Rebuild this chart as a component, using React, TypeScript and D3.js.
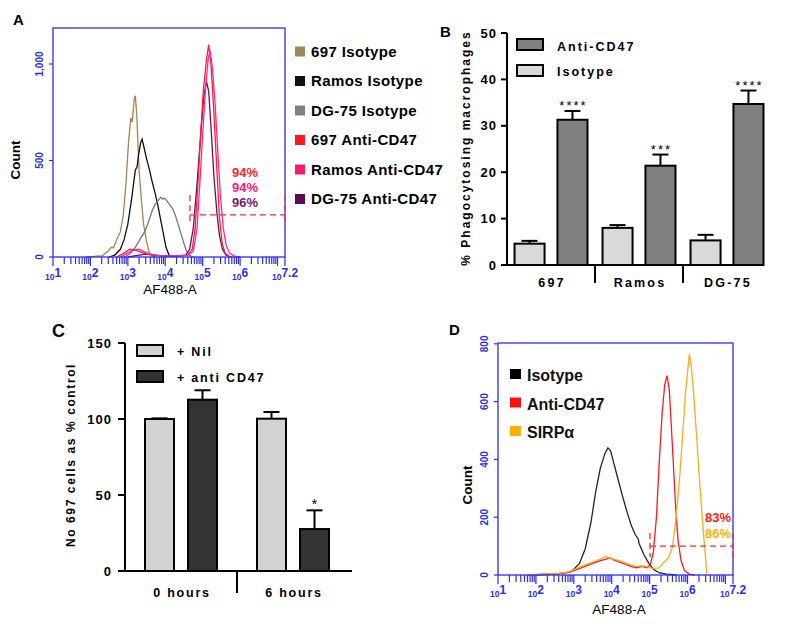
import React from "react";
import * as d3 from "d3";

type Pt = [number, number]; // [log10 fluorescence, count]

// ---------- Panel A : flow histograms ----------
const isotype697: Pt[] = [[1.9,0],[2.1,3],[2.2,6],[2.3,4],[2.4,20],[2.5,35],[2.55,50],[2.62,48],[2.7,90],[2.8,130],[2.88,220],[2.95,380],[3.02,600],[3.08,720],[3.12,700],[3.17,820],[3.2,835],[3.24,730],[3.3,450],[3.36,300],[3.42,170],[3.5,80],[3.57,25],[3.65,5],[3.75,0]];
const isotypeRamos: Pt[] = [[2.5,0],[2.65,10],[2.8,40],[2.9,90],[3.0,170],[3.1,300],[3.2,450],[3.25,470],[3.28,520],[3.34,590],[3.38,610],[3.43,570],[3.5,510],[3.58,450],[3.65,390],[3.73,330],[3.8,270],[3.88,190],[3.95,120],[4.02,50],[4.1,10],[4.2,0]];
const isotypeDG75: Pt[] = [[2.9,0],[3.05,15],[3.2,50],[3.35,100],[3.45,130],[3.55,180],[3.65,240],[3.72,270],[3.8,290],[3.88,310],[3.93,300],[3.98,305],[4.05,290],[4.12,270],[4.2,250],[4.28,210],[4.36,160],[4.42,120],[4.5,70],[4.57,30],[4.65,8],[4.75,0]];
const anti697: Pt[] = [[2.7,0],[2.9,20],[3.05,40],[3.2,35],[3.35,25],[3.5,15],[3.7,8],[4.0,5],[4.3,5],[4.6,10],[4.72,40],[4.8,150],[4.88,400],[4.95,650],[5.02,870],[5.1,1020],[5.16,1100],[5.22,1000],[5.3,750],[5.38,450],[5.45,200],[5.52,70],[5.6,20],[5.7,5],[5.8,0]];
const antiRamos: Pt[] = [[2.8,0],[3.0,20],[3.15,35],[3.3,40],[3.45,25],[3.6,15],[3.8,8],[4.2,5],[4.6,8],[4.75,30],[4.85,150],[4.93,400],[5.0,640],[5.08,880],[5.15,1030],[5.2,1070],[5.26,980],[5.33,800],[5.4,560],[5.47,330],[5.55,150],[5.63,60],[5.72,20],[5.85,5],[6.0,0]];
const antiDG75: Pt[] = [[3.0,0],[3.3,10],[3.5,15],[3.8,8],[4.2,5],[4.55,10],[4.65,40],[4.75,150],[4.85,380],[4.95,640],[5.03,830],[5.1,910],[5.16,860],[5.23,650],[5.3,420],[5.38,230],[5.45,110],[5.53,40],[5.62,10],[5.75,0]];

const legendA = ["697 Isotype", "Ramos Isotype", "DG-75 Isotype", "697 Anti-CD47", "Ramos Anti-CD47", "DG-75 Anti-CD47"];
const legendAColors = ["#9d8a5b", "#111111", "#808080", "#ff1a1a", "#ff1a6e", "#5e0a55"];
const curveAColors = ["#b08050", "#111111", "#777777", "#6b0f5c", "#ff2020", "#ff22aa"];
const percentA = ["94%", "94%", "96%"];
const percentAColors = ["#ff2424", "#ff1a7a", "#7a1a6e"];
const yTicksA = [0, 500, 1000];
const yTickLabelsA = ["0", "500", "1,000"];

// ---------- Panel B : phagocytosis ----------
const phagoCategories = ["697", "Ramos", "DG-75"];
const phagoIsotype = [4.6, 8.0, 5.3];
const phagoIsotypeErr = [5.2, 8.6, 6.5];
const phagoAnti = [31.3, 21.4, 34.7];
const phagoAntiErr = [33.2, 23.8, 37.6];
const phagoStars = ["****", "***", "****"];
const yTicksB = [0, 10, 20, 30, 40, 50];

// ---------- Panel C : cell counts ----------
const cellTimes = ["0 hours", "6 hours"];
const cellNil = [100, 100.2];
const cellNilErr = [100.4, 104.6];
const cellAnti = [112.7, 27.6];
const cellAntiErr = [118.9, 39.9];
const cellStars = ["", "*"];
const yTicksC = [0, 50, 100, 150];

// ---------- Panel D : flow histograms ----------
const isotypeD: Pt[] = [[2.0,0],[2.5,3],[2.9,10],[3.0,20],[3.15,40],[3.3,90],[3.45,180],[3.58,290],[3.7,370],[3.82,420],[3.9,440],[3.97,430],[4.05,390],[4.15,340],[4.27,280],[4.4,220],[4.52,170],[4.62,140],[4.7,125],[4.72,110],[4.85,70],[4.98,40],[5.1,20],[5.25,8],[5.45,3],[5.7,0]];
const antiCD47D: Pt[] = [[1.8,0],[2.2,3],[2.6,5],[2.9,10],[3.1,20],[3.3,30],[3.5,40],[3.7,50],[3.85,55],[3.95,60],[4.05,52],[4.2,45],[4.35,38],[4.5,30],[4.65,25],[4.8,30],[4.92,25],[5.02,35],[5.1,80],[5.18,200],[5.25,380],[5.33,560],[5.4,660],[5.46,690],[5.52,640],[5.6,450],[5.68,250],[5.75,120],[5.83,50],[5.92,15],[6.05,3],[6.2,0]];
const sirpD: Pt[] = [[1.8,0],[2.2,3],[2.6,6],[2.9,12],[3.1,25],[3.3,35],[3.5,45],[3.7,55],[3.85,65],[3.95,58],[4.05,55],[4.2,50],[4.35,42],[4.5,35],[4.65,30],[4.8,32],[4.95,28],[5.1,22],[5.25,25],[5.35,40],[5.5,60],[5.6,95],[5.7,200],[5.8,350],[5.88,500],[5.94,620],[6.0,700],[6.05,765],[6.1,720],[6.15,650],[6.22,520],[6.29,380],[6.36,250],[6.42,145],[6.47,70],[6.51,0]];
const legendD = ["Isotype", "Anti-CD47", "SIRPα"];
const legendDColors = ["#000000", "#ff1010", "#ffb000"];
const percentD = ["83%", "86%"];
const percentDColors = ["#ff2020", "#ffb000"];
const yTicksD = [0, 200, 400, 600, 800];
const yTickLabelsD = ["0", "200", "400", "600", "800"];

const xExponents = ["1", "2", "3", "4", "5", "6", "7.2"];
const xExpValues = [1, 2, 3, 4, 5, 6, 7.2];

const FONT = "'Liberation Sans', Arial, Helvetica, sans-serif";
const BLUE = "#2d2df0";

type FlowProps = {
  box: { x0: number; x1: number; y0: number; y1: number };
  yMax: number;
  yTicks: number[];
  yTickLabels: string[];
  series: Pt[][];
  colors: string[];
  gate: { from: number; level: number; lo: number; hi: number };
  labelOffset: number;
};

function FlowPanel({ box, yMax, yTicks, yTickLabels, series, colors, gate, labelOffset }: FlowProps) {
  const x = d3.scaleLog().domain([10, Math.pow(10, 7.2)]).range([box.x0, box.x1]);
  const y = d3.scaleLinear().domain([0, yMax]).range([box.y1, box.y0]);
  const line = d3.line<Pt>().x(d => x(Math.pow(10, d[0]))).y(d => y(d[1]));
  const minor: number[] = [];
  for (let dd = 1; dd <= 7; dd++) {
    for (let k = 1; k <= 9; k++) {
      const v = k * Math.pow(10, dd);
      if (Math.log10(v) <= 7.2001) minor.push(v);
    }
  }
  const gx0 = x(Math.pow(10, gate.from));
  const gx1 = box.x1;
  return (
    <g fontFamily={FONT}>
      {series.map((s, i) => (
        <path key={i} d={line(s) || ""} fill="none" stroke={colors[i]} strokeWidth={1.3} />
      ))}
      <rect x={box.x0} y={box.y0} width={box.x1 - box.x0} height={box.y1 - box.y0} fill="none" stroke={BLUE} strokeWidth={1.3} />
      {minor.map((v, i) => (
        <line key={i} x1={x(v)} x2={x(v)} y1={box.y1} y2={box.y1 + (Number.isInteger(Math.log10(v)) ? 9 : 7)} stroke={BLUE} strokeWidth={1.2} />
      ))}
      <line x1={box.x1} x2={box.x1} y1={box.y1} y2={box.y1 + 9} stroke={BLUE} strokeWidth={1.2} />
      {xExpValues.map((e, i) => (
        <text key={i} x={x(Math.pow(10, e))} y={box.y1 + labelOffset} textAnchor="middle" fill={BLUE} fontWeight="bold">
          <tspan fontSize={8.5}>10</tspan>
          <tspan fontSize={12} dy={-3}>{xExponents[i]}</tspan>
        </text>
      ))}
      {yTicks.map((t, i) => (
        <g key={i}>
          <line x1={box.x0 - 4} x2={box.x0} y1={y(t)} y2={y(t)} stroke={BLUE} strokeWidth={1.2} />
          <text transform={`translate(${box.x0 - 10},${y(t)}) rotate(-90)`} textAnchor="middle" fontSize={10} fontWeight="bold" fill={BLUE}>{yTickLabels[i]}</text>
        </g>
      ))}
      <line x1={gx0} x2={gx1} y1={y(gate.level)} y2={y(gate.level)} stroke="#e8303a" strokeWidth={1.3} strokeDasharray="6,4" />
      <line x1={gx0} x2={gx0} y1={y(gate.hi)} y2={y(gate.lo)} stroke="#e8303a" strokeWidth={1.3} strokeDasharray="6,4" />
      <line x1={gx1} x2={gx1} y1={y(gate.hi)} y2={y(gate.lo)} stroke="#e8303a" strokeWidth={1.3} strokeDasharray="6,4" />
    </g>
  );
}

export default function App() {
  // Panel B scales
  const yB = d3.scaleLinear().domain([0, 50]).range([265, 33]);
  const gB = d3.scaleBand<string>().domain(phagoCategories).range([507, 771]);
  const iB = d3.scaleBand<string>().domain(["iso", "anti"]).range([0, gB.bandwidth()]).paddingInner(0.3).paddingOuter(0.175);
  // Panel C scales
  const yC = d3.scaleLinear().domain([0, 150]).range([571, 343]);
  const gC = d3.scaleBand<string>().domain(cellTimes).range([125, 349]);
  const iC = d3.scaleBand<string>().domain(["nil", "anti"]).range([0, gC.bandwidth()]).paddingInner(0.326).paddingOuter(0.465);

  const barFont = { fontFamily: FONT, fontWeight: "bold" as const };

  return (
    <svg width={791} height={626} style={{ position: "absolute", left: 0, top: 0, background: "#fff" }} fontFamily={FONT}>
      <rect width={791} height={626} fill="#fff" />
      {/* Titles */}
      <text x={13} y={25} fontSize={15} fontWeight="bold">A</text>
      <text x={440} y={37} fontSize={15} fontWeight="bold">B</text>
      <text x={52} y={337} fontSize={18} fontWeight="bold">C</text>
      <text x={449} y={335} fontSize={15} fontWeight="bold">D</text>

      {/* ---------- Panel A ---------- */}
      <FlowPanel
        box={{ x0: 53, x1: 285, y0: 28, y1: 257 }}
        yMax={1186.5}
        yTicks={yTicksA}
        yTickLabels={yTickLabelsA}
        series={[isotype697, isotypeRamos, isotypeDG75, antiDG75, anti697, antiRamos]}
        colors={curveAColors}
        gate={{ from: 4.66, level: 218, lo: 165, hi: 320 }}
        labelOffset={23}
      />
      <text transform="translate(20,160) rotate(-90)" textAnchor="middle" fontSize={13.5} fontWeight="bold">Count</text>
      <text x={170} y={294} textAnchor="middle" fontSize={13.5}>AF488-A</text>
      {percentA.map((p, i) => (
        <text key={i} x={232} y={177 + i * 15} fontSize={13} fontWeight="bold" fill={percentAColors[i]}>{p}</text>
      ))}
      {legendA.map((l, i) => (
        <g key={i}>
          <rect x={295} y={46.5 + i * 29.5} width={10} height={10} fill={legendAColors[i]} />
          <text x={311} y={56.8 + i * 29.5} fontSize={15} letterSpacing={0.4} fontWeight="bold">{l}</text>
        </g>
      ))}

      {/* ---------- Panel B ---------- */}
      <g {...barFont}>
        <line x1={507} x2={507} y1={33} y2={265} stroke="#000" strokeWidth={2} />
        <line x1={506} x2={764} y1={265} y2={265} stroke="#000" strokeWidth={2} />
        {yTicksB.map(t => (
          <g key={t}>
            <line x1={501} x2={507} y1={yB(t)} y2={yB(t)} stroke="#000" strokeWidth={2} />
            <text x={497} y={yB(t)} dy="0.35em" textAnchor="end" fontSize={13} letterSpacing={1}>{t}</text>
          </g>
        ))}
        {phagoCategories.slice(1).map(c => (
          <line key={c} x1={gB(c)!} x2={gB(c)!} y1={265} y2={283} stroke="#000" strokeWidth={2} />
        ))}
        {phagoCategories.map((c, i) => {
          const gx = gB(c)!;
          const xi = gx + iB("iso")!;
          const xa = gx + iB("anti")!;
          const bw = iB.bandwidth();
          return (
            <g key={c}>
              <line x1={xi + bw / 2} x2={xi + bw / 2} y1={yB(phagoIsotype[i])} y2={yB(phagoIsotypeErr[i])} stroke="#000" strokeWidth={2} />
              <line x1={xi + bw / 2 - 8} x2={xi + bw / 2 + 8} y1={yB(phagoIsotypeErr[i])} y2={yB(phagoIsotypeErr[i])} stroke="#000" strokeWidth={2} />
              <rect x={xi} y={yB(phagoIsotype[i])} width={bw} height={yB(0) - yB(phagoIsotype[i])} fill="#d9d9d9" stroke="#000" strokeWidth={2} />
              <line x1={xa + bw / 2} x2={xa + bw / 2} y1={yB(phagoAnti[i])} y2={yB(phagoAntiErr[i])} stroke="#000" strokeWidth={2} />
              <line x1={xa + bw / 2 - 8} x2={xa + bw / 2 + 8} y1={yB(phagoAntiErr[i])} y2={yB(phagoAntiErr[i])} stroke="#000" strokeWidth={2} />
              <rect x={xa} y={yB(phagoAnti[i])} width={bw} height={yB(0) - yB(phagoAnti[i])} fill="#808080" stroke="#000" strokeWidth={2} />
              <text x={xa + bw / 2 + 1} y={yB(phagoAntiErr[i]) - 1} textAnchor="middle" fontSize={13} fontWeight="normal" letterSpacing={2}>{phagoStars[i]}</text>
              <text x={gx + gB.bandwidth() / 2 + 1} y={287} textAnchor="middle" fontSize={12.5} letterSpacing={2.2}>{c}</text>
            </g>
          );
        })}
        <rect x={517} y={39} width={26} height={11} fill="#808080" stroke="#000" strokeWidth={2} />
        <text x={557} y={51} fontSize={12.5} letterSpacing={2}>Anti-CD47</text>
        <rect x={517} y={65} width={26} height={11} fill="#d9d9d9" stroke="#000" strokeWidth={2} />
        <text x={557} y={76} fontSize={12.5} letterSpacing={2}>Isotype</text>
        <text transform="translate(470,148) rotate(-90)" textAnchor="middle" fontSize={12} letterSpacing={2}>% Phagocytosing macrophages</text>
      </g>

      {/* ---------- Panel C ---------- */}
      <g {...barFont}>
        <line x1={125} x2={125} y1={343} y2={571} stroke="#000" strokeWidth={2} />
        <line x1={124} x2={352} y1={571} y2={571} stroke="#000" strokeWidth={2} />
        {yTicksC.map(t => (
          <g key={t}>
            <line x1={118} x2={125} y1={yC(t)} y2={yC(t)} stroke="#000" strokeWidth={2} />
            <text x={112} y={yC(t)} dy="0.35em" textAnchor="end" fontSize={13} letterSpacing={1}>{t}</text>
          </g>
        ))}
        <line x1={gC(cellTimes[1])!} x2={gC(cellTimes[1])!} y1={571} y2={593} stroke="#000" strokeWidth={2} />
        {cellTimes.map((c, i) => {
          const gx = gC(c)!;
          const xn = gx + iC("nil")!;
          const xa = gx + iC("anti")!;
          const bw = iC.bandwidth();
          return (
            <g key={c}>
              <line x1={xn + bw / 2} x2={xn + bw / 2} y1={yC(cellNil[i])} y2={yC(cellNilErr[i])} stroke="#000" strokeWidth={2} />
              <line x1={xn + bw / 2 - 8} x2={xn + bw / 2 + 8} y1={yC(cellNilErr[i])} y2={yC(cellNilErr[i])} stroke="#000" strokeWidth={2} />
              <rect x={xn} y={yC(cellNil[i])} width={bw} height={yC(0) - yC(cellNil[i])} fill="#d3d3d3" stroke="#000" strokeWidth={2} />
              <line x1={xa + bw / 2} x2={xa + bw / 2} y1={yC(cellAnti[i])} y2={yC(cellAntiErr[i])} stroke="#000" strokeWidth={2} />
              <line x1={xa + bw / 2 - 8} x2={xa + bw / 2 + 8} y1={yC(cellAntiErr[i])} y2={yC(cellAntiErr[i])} stroke="#000" strokeWidth={2} />
              <rect x={xa} y={yC(cellAnti[i])} width={bw} height={yC(0) - yC(cellAnti[i])} fill="#333333" stroke="#000" strokeWidth={2} />
              <text x={xa + bw / 2} y={yC(cellAntiErr[i]) - 1} textAnchor="middle" fontSize={14} fontWeight="normal">{cellStars[i]}</text>
              <text x={gx + gC.bandwidth() / 2 + 1} y={597} textAnchor="middle" fontSize={12.5} letterSpacing={1.8}>{c}</text>
            </g>
          );
        })}
        <rect x={137} y={345} width={26} height={11} fill="#d3d3d3" stroke="#000" strokeWidth={2} />
        <text x={177} y={356} fontSize={12.5} letterSpacing={1.8}>+ Nil</text>
        <rect x={137} y={371} width={26} height={11} fill="#333333" stroke="#000" strokeWidth={2} />
        <text x={177} y={382} fontSize={12.5} letterSpacing={1.8}>+ anti CD47</text>
        <text transform="translate(75,455) rotate(-90)" textAnchor="middle" fontSize={12} letterSpacing={1.6}>No 697 cells as % control</text>
      </g>

      {/* ---------- Panel D ---------- */}
      <FlowPanel
        box={{ x0: 498, x1: 733, y0: 343, y1: 575 }}
        yMax={803}
        yTicks={yTicksD}
        yTickLabels={yTickLabelsD}
        series={[isotypeD, antiCD47D, sirpD]}
        colors={["#222222", "#ff1a1a", "#ffa820"]}
        gate={{ from: 5.01, level: 100, lo: 62, hi: 145 }}
        labelOffset={22}
      />
      <text transform="translate(472,485) rotate(-90)" textAnchor="middle" fontSize={13.5} fontWeight="bold">Count</text>
      <text x={619} y={614} textAnchor="middle" fontSize={13.5}>AF488-A</text>
      {percentD.map((p, i) => (
        <text key={i} x={705} y={522 + i * 16} fontSize={13} fontWeight="bold" fill={percentDColors[i]}>{p}</text>
      ))}
      {legendD.map((l, i) => (
        <g key={i}>
          <rect x={510} y={369 + i * 28.5} width={11} height={10} fill={legendDColors[i]} />
          <text x={527} y={381 + i * 28.5} fontSize={16} fontWeight="bold" fill="#111">{l}</text>
        </g>
      ))}
    </svg>
  );
}
